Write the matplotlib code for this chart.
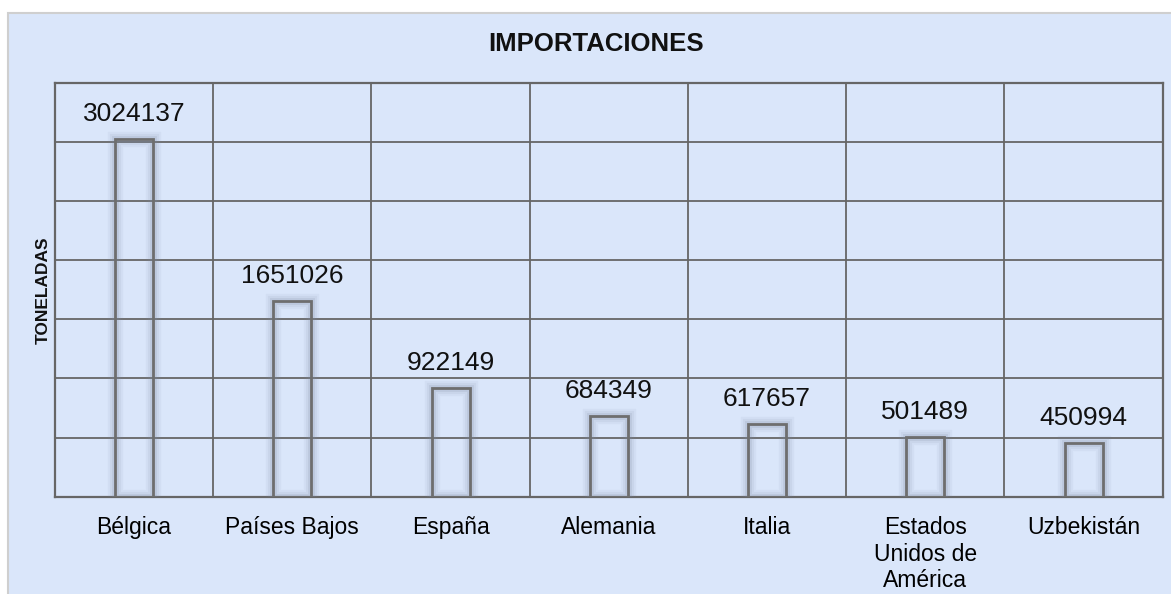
import matplotlib
matplotlib.use("Agg")
import matplotlib.pyplot as plt
import numpy as np
from matplotlib.patches import Rectangle

categories = ["Bélgica", "Países Bajos", "España", "Alemania", "Italia",
              "Estados\nUnidos de\nAmérica", "Uzbekistán"]
values = [3024137, 1651026, 922149, 684349, 617657, 501489, 450994]
title = "IMPORTACIONES"
ylabel = "TONELADAS"

plt.rcParams['font.family'] = ['Liberation Sans', 'DejaVu Sans']

W, H = 1171, 594
fig = plt.figure(figsize=(W / 100, H / 100), dpi=100)
fig.patch.set_facecolor('white')
bg = '#dae6fa'
fig.add_artist(Rectangle((7.5 / W, -0.02), 1.1, 1 - 12.5 / H + 0.02,
                         transform=fig.transFigure, facecolor=bg,
                         edgecolor='#cfcfcf', lw=1.5, zorder=0))

ax = fig.add_axes([55 / W, (H - 496.7) / H, (1162.7 - 55) / W, (496.7 - 82.7) / H])
ax.set_facecolor(bg)
x = np.arange(len(categories))
ax.set_xlim(-0.5, len(categories) - 0.5)
ax.set_ylim(0, 3500000)
ax.set_yticks(np.arange(0, 3500001, 500000))
ax.set_xticks(x)
ax.set_xticklabels(categories, fontsize=16.5, linespacing=1.2)
ax.set_xticks(x[:-1] + 0.5, minor=True)
ax.tick_params(axis='y', length=0, labelleft=False)
ax.tick_params(axis='x', which='both', length=0, pad=14)
ax.grid(True, axis='y', color='#666666', lw=1.3)
ax.grid(True, axis='x', which='minor', color='#666666', lw=1.3)
ax.grid(False, axis='x', which='major')
ax.set_axisbelow(True)
for s in ax.spines.values():
    s.set_color('#666666')
    s.set_linewidth(1.6)

width = 0.24
for lw, a in [(11, 0.08), (8, 0.10), (5, 0.16)]:
    ax.bar(x, values, width, facecolor='none', edgecolor='#7d8aa3',
           linewidth=lw, alpha=a, zorder=3)
ax.bar(x, values, width, facecolor='none', edgecolor='#6e6e6e',
       linewidth=2, zorder=4)

for xi, v in zip(x, values):
    ax.annotate(str(v), (xi, v), xytext=(0, 13), textcoords='offset points',
                ha='center', va='baseline', fontsize=19, color='#111111')

fig.text(596 / W, 1 - 44 / H, title, ha='center', va='center',
         fontsize=18.5, fontweight='bold', color='#111111')
fig.text(43 / W, 1 - 290 / H, ylabel, ha='center', va='center', rotation=90,
         fontsize=12.5, fontweight='bold', color='#111111')

fig.savefig("out.png", dpi=100, facecolor=fig.get_facecolor())
